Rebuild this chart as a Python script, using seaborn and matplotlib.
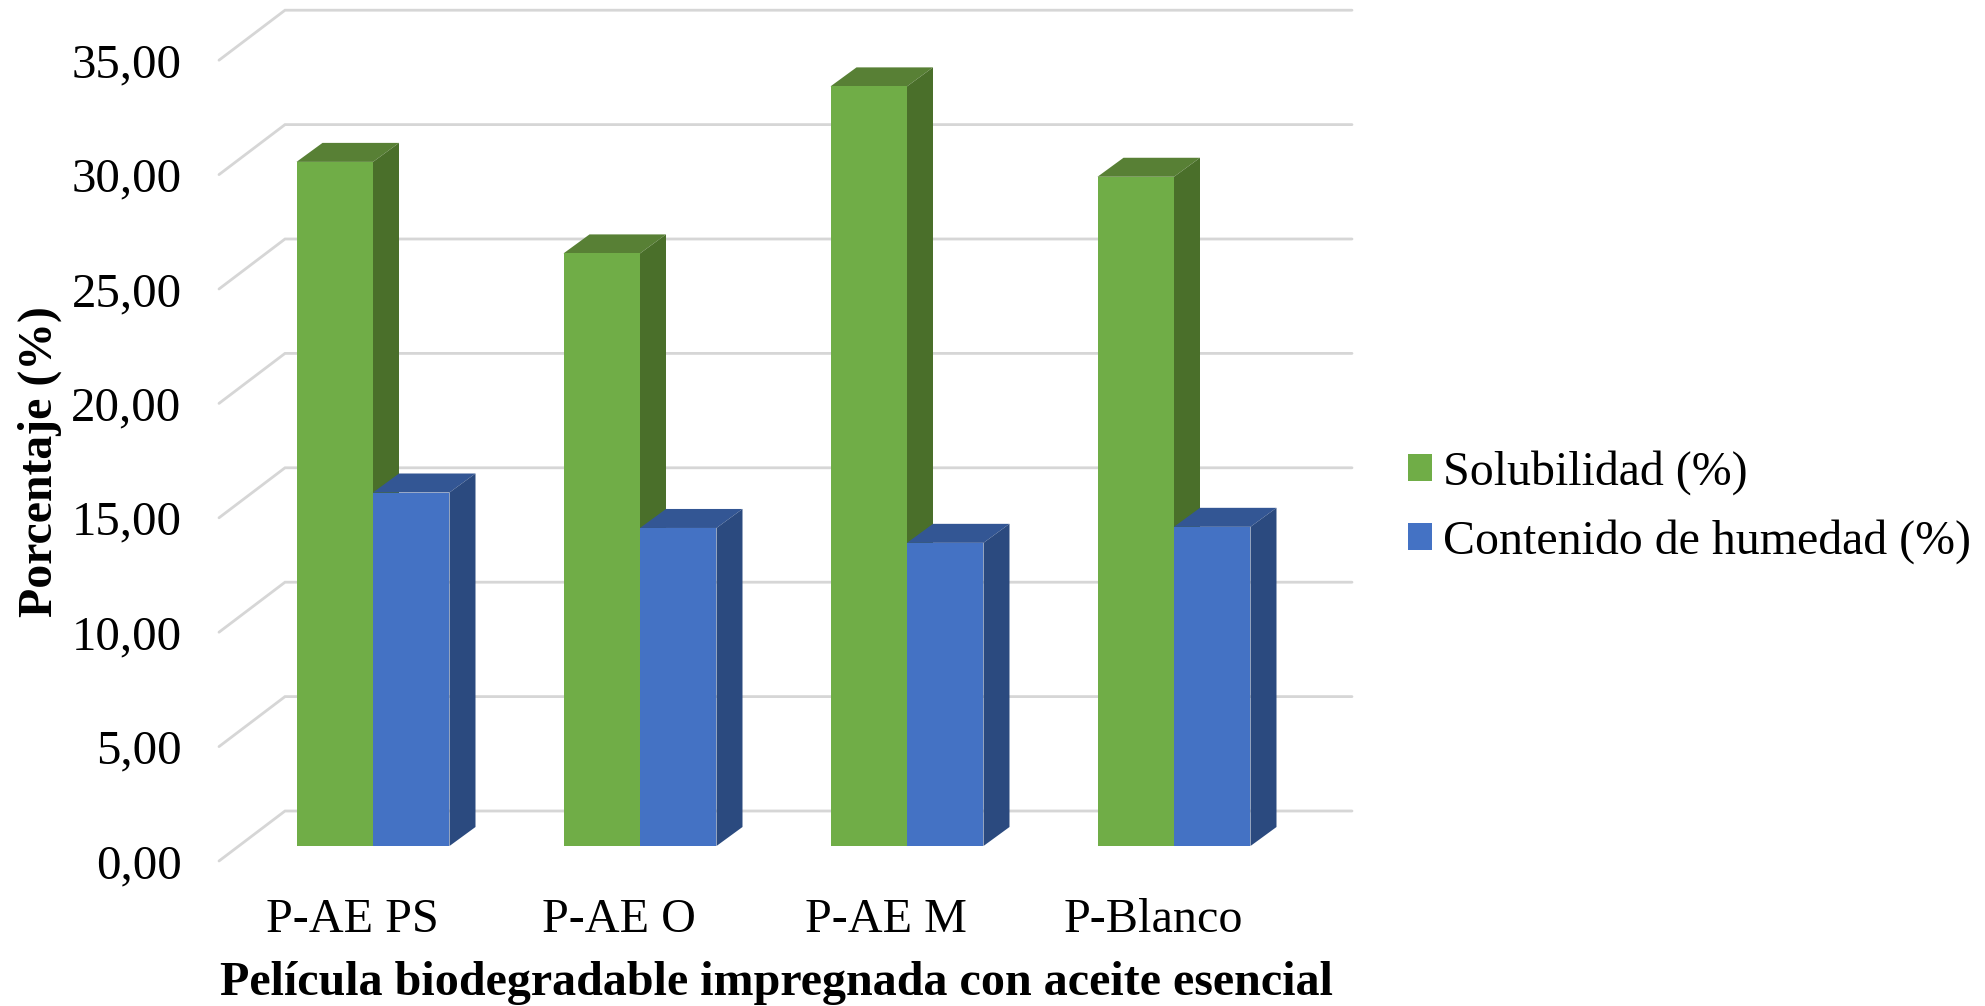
import pandas as pd
import matplotlib
matplotlib.use('Agg')
import matplotlib.pyplot as plt
from matplotlib.patches import Polygon
import seaborn as sns

# --- data ---
peliculas = ['P-AE PS', 'P-AE O', 'P-AE M', 'P-Blanco']
solubilidad = [29.90, 25.90, 33.20, 29.25]
humedad = [15.45, 13.90, 13.25, 13.95]
serie_names = ['Solubilidad (%)', 'Contenido de humedad (%)']
y_ticks = [0, 5, 10, 15, 20, 25, 30, 35]
y_labels = ['0,00', '5,00', '10,00', '15,00', '20,00', '25,00', '30,00', '35,00']

# front, top and side colours per series
colors = ['#70AD47', '#4472C4']
top_colors = ['#588035', '#335694']
side_colors = ['#4A6F2A', '#2B4A7F']
grid_color = '#D6D6D6'

df = pd.DataFrame({
    'pelicula': peliculas * 2,
    'serie': [serie_names[0]] * 4 + [serie_names[1]] * 4,
    'valor': solubilidad + humedad,
})

sns.set_theme(style='white')
plt.rcParams['font.family'] = ['Liberation Serif', 'DejaVu Serif']
plt.rcParams['text.color'] = 'black'

W, H = 1985, 1006
fig = plt.figure(figsize=(W / 100, H / 100), dpi=100)
# plot box in pixels: left 219, right 1352, top 10, bottom 861
ax = fig.add_axes([219 / W, 1 - 861 / H, (1352 - 219) / W, (861 - 10) / H])

sns.barplot(data=df, x='pelicula', y='valor', hue='serie', order=peliculas,
            hue_order=serie_names, palette=colors, saturation=1, width=0.573,
            gap=0, zorder=5, linewidth=0, edgecolor='none', ax=ax)

# pixel scale of the fake 3D chart
px_x = 267.0       # px per category
px_y = 114.4 / 5   # px per percent
ax.set_xlim((219 - 373) / px_x, (1352 - 373) / px_x)
ax.set_ylim(-15 / px_y, (846 - 10) / px_y)

# bar depth and wall depth, in data units
bar_dx, bar_dy = 26 / px_x, 19 / px_y
wall_dx, wall_dy = 66 / px_x, 50 / px_y
front_dy = 15 / px_y
front_dx = 20 / px_x

# wall gridlines with the slanted part on the left
x0, x1 = ax.get_xlim()
for v in y_ticks:
    y_front = v - front_dy
    ax.plot([x0, x0 + wall_dx, x1], [y_front, y_front + wall_dy, y_front + wall_dy],
            color=grid_color, lw=2.0, zorder=1, clip_on=False,
            solid_capstyle='round', solid_joinstyle='miter')

# top and side faces built from the bars seaborn drew
for i, container in enumerate(ax.containers):
    for bar in container:
        left = bar.get_x()
        right = left + bar.get_width()
        top = bar.get_height()
        ax.add_patch(Polygon([(left, top), (right, top), (right + bar_dx, top + bar_dy),
                              (left + bar_dx, top + bar_dy)],
                             closed=True, fc=top_colors[i], ec='none', zorder=2 + i))
        ax.add_patch(Polygon([(right, 0), (right + bar_dx, bar_dy),
                              (right + bar_dx, top + bar_dy), (right, top)],
                             closed=True, fc=side_colors[i], ec='none', zorder=2 + i))

# ticks sit on the front of the floor
ax.set_yticks([v - front_dy for v in y_ticks], y_labels)
ax.set_xticks([i - front_dx - 1 / px_x for i in range(len(peliculas))], peliculas)
ax.tick_params(axis='y', length=0, pad=27, labelsize=35.2, labelcolor='black')
ax.tick_params(axis='x', length=0, pad=27, labelsize=34.7, labelcolor='black')
for s in ax.spines.values():
    s.set_visible(False)
ax.patch.set_alpha(0)
ax.set_xlabel('')
ax.set_ylabel('')

fig.text(776 / W, 1 - 983 / H, 'Película biodegradable impregnada con aceite esencial',
         ha='center', va='center', fontsize=34.6, fontweight='bold', color='black')
fig.text(40 / W, 1 - 462 / H, 'Porcentaje (%)', ha='center', va='center', rotation=90,
         fontsize=34.4, fontweight='bold', color='black')

handles, labels = ax.get_legend_handles_labels()
ax.legend(handles, labels, loc='center left', bbox_to_anchor=(1408 / W, 1 - 507 / H),
          bbox_transform=fig.transFigure, frameon=False, fontsize=34.5, handlelength=0.5,
          handleheight=0.5, handletextpad=0.23, labelspacing=0.51, borderpad=0, borderaxespad=0)

fig.savefig('out.png', dpi=100)
